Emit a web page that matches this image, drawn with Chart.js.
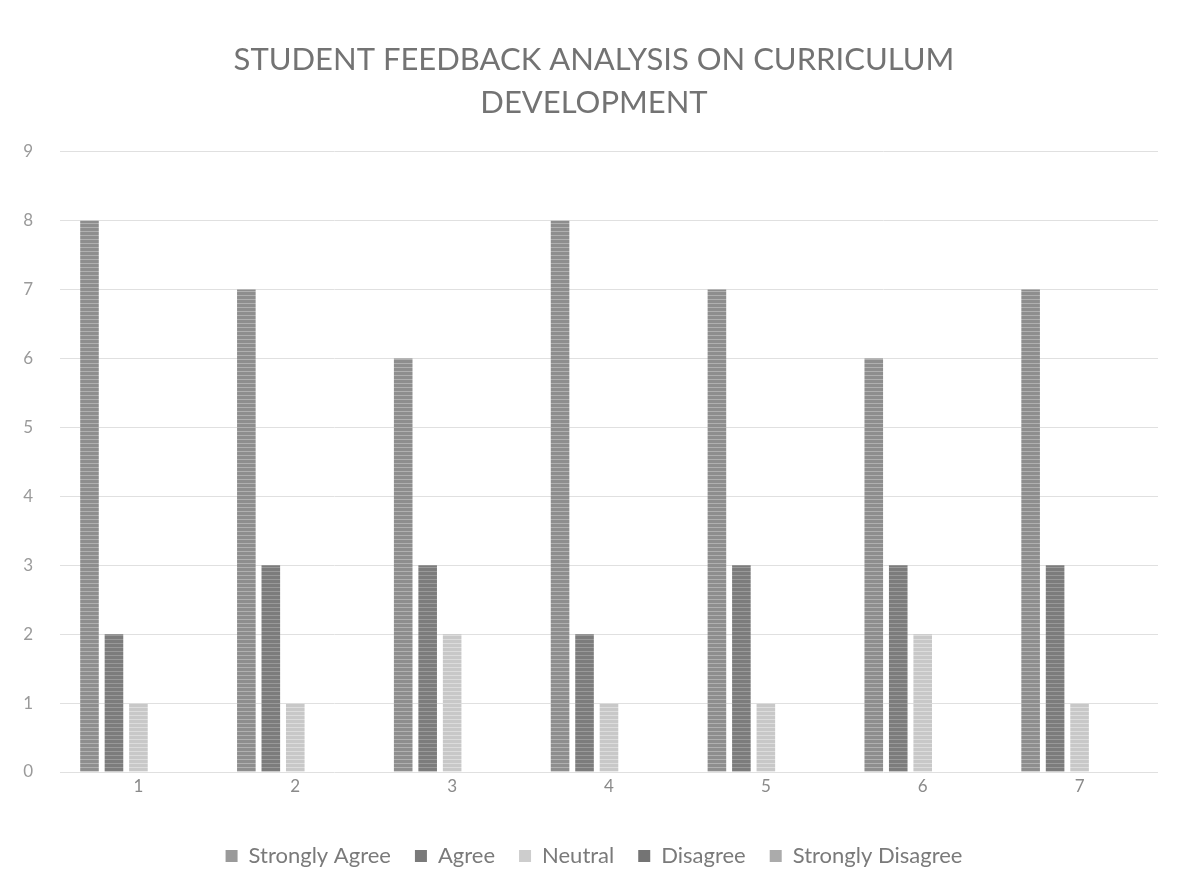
<!DOCTYPE html>
<html><head><meta charset="utf-8">
<script src="https://cdn.jsdelivr.net/npm/chart.js@4.4.1/dist/chart.umd.min.js"></script>
<style>html,body{margin:0;padding:0;background:#fff;}#wrap{width:1188px;height:893px;}</style>
</head><body><div id="wrap"><canvas id="c" width="1188" height="893"></canvas></div>
<script>
const categories = ['1','2','3','4','5','6','7'];
const stronglyAgree = [8,7,6,8,7,6,7];
const agree = [2,3,3,2,3,3,3];
const neutral = [1,1,2,1,1,2,1];
const disagree = [0,0,0,0,0,0,0];
const stronglyDisagree = [0,0,0,0,0,0,0];
const seriesNames = ['Strongly Agree','Agree','Neutral','Disagree','Strongly Disagree'];
const yTicks = [0,1,2,3,4,5,6,7,8,9];

function stripe(dark, light){
  const p = document.createElement('canvas'); p.width = 4; p.height = 4;
  const g = p.getContext('2d');
  g.fillStyle = light; g.fillRect(0,0,4,4);
  g.fillStyle = dark; g.fillRect(0,0,4,3);
  return g.createPattern(p,'repeat');
}
const cols = [stripe('#8e8e8e','#b0b0b0'), stripe('#7c7c7c','#999999'), stripe('#c8c8c8','#dcdcdc'), stripe('#707070','#909090'), stripe('#a8a8a8','#c0c0c0')];
const legendCols = ['#9a9a9a','#7a7a7a','#cdcdcd','#747474','#ababab'];
const values = [stronglyAgree, agree, neutral, disagree, stronglyDisagree];
const F = 'Lato, "Open Sans", sans-serif';
new Chart(document.getElementById('c'), {
  type: 'bar',
  data: { labels: categories, datasets: seriesNames.map((n,i)=>({label:n, data: values[i], backgroundColor: cols[i], borderWidth:0})) },
  options: {
    responsive:false, animation:false,
    layout:{padding:{left:0,right:0,top:0,bottom:16}},
    datasets:{bar:{categoryPercentage:0.78, barPercentage:0.76}},
    plugins:{
      title:{display:true, text:['STUDENT FEEDBACK ANALYSIS ON CURRICULUM','DEVELOPMENT'], color:'#737373', font:{family:F, size:31, weight:'normal', lineHeight:1.4}, padding:{top:38,bottom:27}},
      legend:{position:'bottom', labels:{color:'#7a7a7a', font:{family:F,size:22}, boxWidth:12, boxHeight:12, padding:24,
        generateLabels:(ch)=>seriesNames.map((n,i)=>({text:n, fillStyle:legendCols[i], strokeStyle:legendCols[i], lineWidth:0, datasetIndex:i, fontColor:'#7a7a7a'}))}},
      tooltip:{enabled:false}
    },
    scales:{
      x:{grid:{display:false, drawTicks:false}, border:{display:false}, ticks:{color:'#8a8a8a', font:{family:F,size:17}, padding:4}, afterFit:(s)=>{s.height=49;}},
      y:{min:0,max:9, afterBuildTicks:(a)=>{a.ticks = yTicks.map(v=>({value:v}));}, grid:{color:'#e0e0e0', lineWidth:1, drawTicks:false}, border:{display:false}, ticks:{color:'#9a9a9a', font:{family:F,size:17}, padding:27}, afterFit:(s)=>{s.width=60;}},
      ySpace:{position:'right', min:0, max:9, grid:{display:false, drawTicks:false}, border:{display:false}, ticks:{display:false}, afterFit:(s)=>{s.width=30;}}
    }
  }
});
</script></body></html>
